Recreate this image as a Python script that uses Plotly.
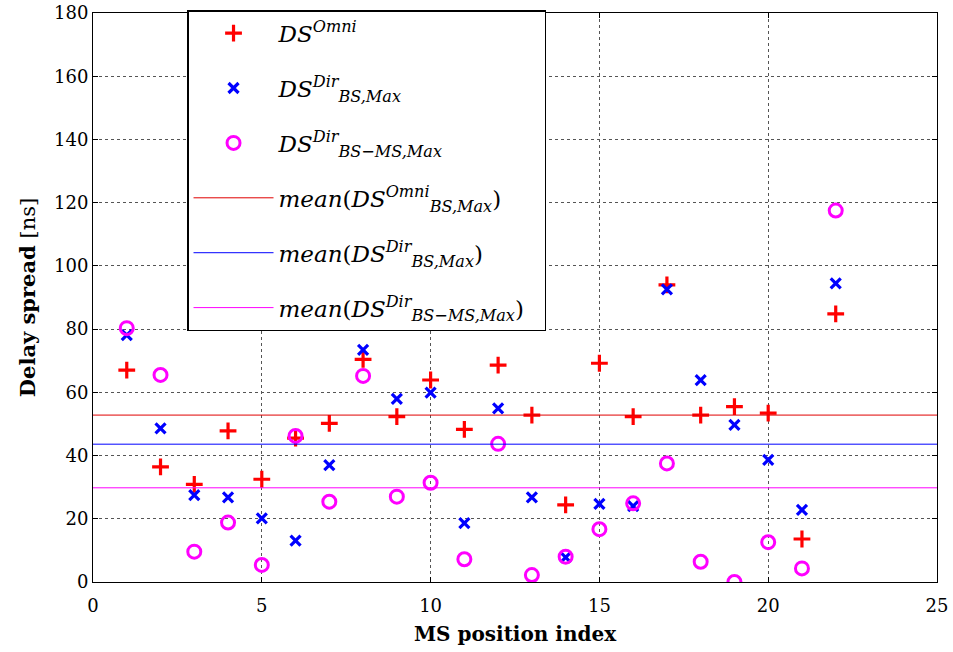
import plotly.graph_objects as go

positions = list(range(1, 23))
ds_omni = [67.0, 36.4, 30.9, 47.8, 32.5, 45.5, 50.2, 70.4, 52.3, 63.9, 48.3,
           68.6, 52.8, 24.4, 69.2, 52.3, 94.0, 52.8, 55.5, 53.4, 13.6, 84.8]
ds_dir_bs = [78.1, 48.6, 27.5, 26.8, 20.1, 13.1, 37.0, 73.4, 57.9, 59.9, 18.6,
             54.9, 26.8, 7.8, 24.7, 24.0, 92.6, 63.9, 49.7, 38.6, 22.8, 94.5]
ds_dir_bsms = [80.3, 65.5, 9.6, 18.8, 5.4, 46.2, 25.4, 65.2, 27.0, 31.4, 7.2,
               43.7, 2.2, 8.0, 16.7, 24.9, 37.5, 6.4, 0.0, 12.6, 4.3, 117.5]
mean_omni = 52.8
mean_dir_bs = 43.6
mean_dir_bsms = 29.8
x_range = [0, 25]

leg_font = dict(family="DejaVu Serif", size=23, color="black")

fig = go.Figure()
fig.add_trace(go.Scatter(
    x=positions, y=ds_omni, mode="markers", name="<i>DS<sup>Omni</sup></i>",
    legendgroup="a",
    marker=dict(symbol="cross-thin", size=12, color="red", line=dict(color="red", width=3.2))))
fig.add_trace(go.Scatter(
    x=positions, y=ds_dir_bs, mode="markers", name="<i>DS<sup>Dir</sup><sub>BS,Max</sub></i>",
    legendgroup="b",
    marker=dict(symbol="x-thin", size=10, color="blue", line=dict(color="blue", width=3.2))))
fig.add_trace(go.Scatter(
    x=positions, y=ds_dir_bsms, mode="markers", name="<i>DS<sup>Dir</sup><sub>BS\u2212MS,Max</sub></i>",
    legendgroup="c",
    marker=dict(symbol="circle-open", size=13, color="magenta", line=dict(color="magenta", width=3))))
fig.add_trace(go.Scatter(
    x=x_range, y=[mean_omni, mean_omni], mode="lines",
    name="<i>mean</i>(<i>DS<sup>Omni</sup><sub>BS,Max</sub></i>)", legendgroup="d",
    line=dict(color="#e00000", width=1)))
fig.add_trace(go.Scatter(
    x=x_range, y=[mean_dir_bs, mean_dir_bs], mode="lines",
    name="<i>mean</i>(<i>DS<sup>Dir</sup><sub>BS,Max</sub></i>)", legendgroup="e",
    line=dict(color="blue", width=1)))
fig.add_trace(go.Scatter(
    x=x_range, y=[mean_dir_bsms, mean_dir_bsms], mode="lines",
    name="<i>mean</i>(<i>DS<sup>Dir</sup><sub>BS\u2212MS,Max</sub></i>)&nbsp;&nbsp;", legendgroup="f",
    line=dict(color="magenta", width=1)))

axis_common = dict(
    showline=True, linecolor="black", linewidth=1, mirror="ticks",
    ticks="inside", ticklen=5, tickcolor="black",
    showgrid=True, gridcolor="#555555", griddash="dot", gridwidth=1,
    zeroline=False, ticklabeloverflow="allow",
    tickfont=dict(family="DejaVu Serif", size=18, color="black"),
)

fig.update_xaxes(range=x_range, tickvals=[0, 5, 10, 15, 20, 25], **axis_common,
                 ticklabelstandoff=7,
                 title=dict(text="<b>MS position index</b>",
                            font=dict(family="DejaVu Serif", size=20, color="black"),
                            standoff=12))
fig.update_yaxes(range=[0, 180], tickvals=list(range(0, 181, 20)), **axis_common,
                 title=dict(text="<b>Delay spread</b> [ns]",
                            font=dict(family="DejaVu Serif", size=21, color="black"),
                            standoff=12))

fig.update_layout(
    width=953, height=652,
    margin=dict(l=93, r=16, t=13, b=70, autoexpand=False),
    paper_bgcolor="white", plot_bgcolor="white",
    showlegend=True,
    legend=dict(
        x=0.1114, y=1.005, xanchor="left", yanchor="top",
        bgcolor="white", bordercolor="black", borderwidth=1.5,
        font=leg_font, tracegroupgap=22, itemwidth=80, maxheight=600,
    ),
)

fig.write_html("out.html", config={"displayModeBar": False},
               post_script="document.body.style.margin='0';")
